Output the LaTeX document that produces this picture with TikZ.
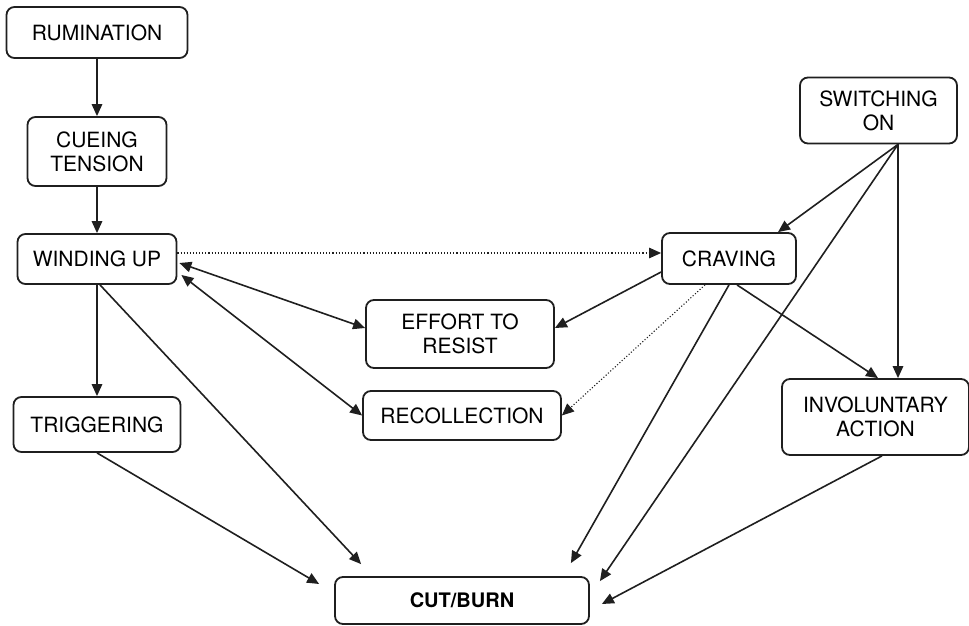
\documentclass[tikz,border=0pt]{standalone}
\usepackage{fontspec}
\setmainfont{TeX Gyre Heros}
\usetikzlibrary{positioning,calc,arrows.meta}
\colorlet{colorBOX}{black!88}
\colorlet{colorARR}{black!88}
\tikzset{
   every path/.style={>={Triangle[length=12pt,width=10.5pt]}},
   box/.style={rectangle,draw=colorBOX,rounded corners=8pt,line width=1.8pt,align=center,inner sep=2pt,font=\fontsize{21}{24}\selectfont},
   fl/.style={->,color=colorARR,line width=1.6pt},
   flb/.style={<->,color=colorARR,line width=1.6pt},
   fld/.style={->,color=colorARR,dotted,line width=1.1pt},
}

\begin{document}
\begin{tikzpicture}[x=1pt,y=-1pt]
    \useasboundingbox (0,0) rectangle (969,626);

    \node[box,minimum width=181pt,minimum height=51pt] (rum)    at (97,32.5)   {RUMINATION};
    \node[box,minimum width=139pt,minimum height=69pt] (cue)    at (97,151.5)  {CUEING\\TENSION};
    \node[box,minimum width=159pt,minimum height=50pt] (wind)   at (97,259)    {WINDING UP};
    \node[box,minimum width=167pt,minimum height=55pt] (trig)   at (97,424.5)  {TRIGGERING};
    \node[box,minimum width=188pt,minimum height=68pt] (effort) at (460,334)   {EFFORT TO\\RESIST};
    \node[box,minimum width=198pt,minimum height=49pt] (recoll) at (462,415.5) {RECOLLECTION};
    \node[box,minimum width=157pt,minimum height=66pt] (switch) at (878.5,110.5) {SWITCHING\\ON};
    \node[box,minimum width=134pt,minimum height=51pt] (crave)  at (729,258.5) {CRAVING};
    \node[box,minimum width=187pt,minimum height=76pt] (invol)  at (875.5,417) {INVOLUNTARY\\ACTION};
    \node[box,minimum width=254pt,minimum height=47pt,font=\fontsize{20}{24}\selectfont\bfseries] (cut) at (462,600.5) {CUT/BURN};

    \coordinate (swfoot) at ($(switch.south)+(19.5,0)$);

    % left column
    \draw[fl] (rum) -- (cue);
    \draw[fl] (cue) -- (wind);
    \draw[fl] (wind) -- (trig);

    \draw[fld] ($(wind.east)+(0,-6)$) coordinate (d1) -- (d1 -| crave.west);
    \draw[flb] ($(wind.east)+(2,4)$) -- ($(effort.west)+(0,-6)$);
    \draw[flb] ($(wind.east)+(4,16)$) -- (recoll.west);
    \draw[fl] ($(wind.south)+(3,0)$) -- ($(cut.north west)+(27,-12)$);
    \draw[fl] (trig.south) -- ($(cut.west)+(-15,-16.5)$);

    % craving
    \draw[fl] ($(crave.west)+(0,13.5)$) -- ($(effort.east)+(0,-6)$);
    \draw[fld] ($(crave.south)+(-24,0)$) -- (recoll.east);
    \draw[fl] (crave.south) -- ($(cut.north east)+(-19,-13)$);
    \draw[fl] ($(crave.south)+(8,0)$) -- ($(invol.north)+(2.5,0)$);

    % switching on
    \draw[fl] (swfoot) -- ($(crave.north)+(49,0)$);
    \draw[fl] (swfoot) -- (swfoot |- invol.north);
    \draw[fl] (swfoot) -- ($(cut.north east)+(10,5)$);
    \draw[fl] ($(invol.south)+(6.5,0)$) -- ($(cut.east)+(12,3.5)$);

\end{tikzpicture}
\end{document}
